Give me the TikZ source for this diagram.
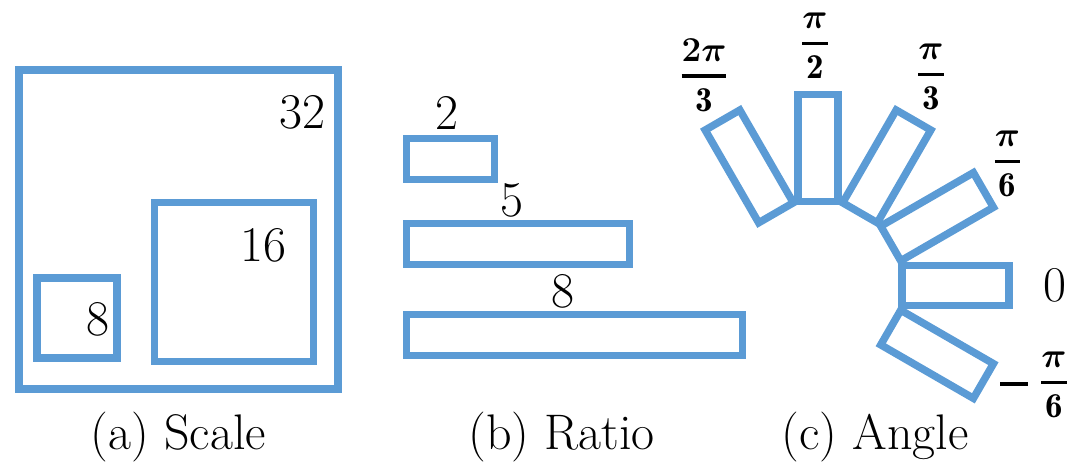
\RequirePackage{fix-cm}
\documentclass[tikz,border=0pt]{standalone}
\usepackage{amsmath}
\usepackage{fontspec}
\usepackage{tikz}
\usetikzlibrary{positioning}
\definecolor{boxblue}{RGB}{91,155,213}
\tikzset{
  box/.style={draw=boxblue, line width=7.5pt, inner sep=0pt, outer sep=0pt},
  num/.style={font=\fontsize{50}{60}\selectfont, inner sep=0pt, anchor=base},
  angnum/.style={font=\fontsize{35}{40}\selectfont, inner sep=0pt},
}
\newcommand{\angfrac}[2]{$\genfrac{}{}{3.5pt}{0}{\boldsymbol{#1}}{\mathbf{#2}}$}

\begin{document}
\begin{tikzpicture}[x=1pt, y=1pt]
        \useasboundingbox (0,0) rectangle (1080,471);
        % (a) scale
        \node[box, minimum size=319pt] (big) at (178.5,241.5) {};
        \node[box, minimum size=159pt] (mid) at (234,189) {};
        \node[box, minimum size=80pt] (small) at (77,153) {};
        \node[num] (n32) at (302.5,342) {32};
        \node[num] (n16) at (263.5,209) {16};
        \node[num] (n8) at (97.5,135) {8};
        % (b) ratio
        \node[box, minimum width=88pt, minimum height=41pt] (rtwo) at (450.5,312) {};
        \node[box, minimum width=223pt, minimum height=41pt] (rfive) at (518,227) {};
        \node[box, minimum width=336pt, minimum height=41pt] (reight) at (574.5,136) {};
        \node[num] (ntwo) at (446.5,341) {2};
        \node[num] (nfive) at (512,254) {5};
        \node[num] (neight) at (563,163) {8};
        % (c) angle
        \coordinate (hub) at (818,185.5);
        \foreach \a in {-30,0,30,60,90,120}
            \node[box, minimum width=107pt, minimum height=40pt, rotate=\a] (rot\a) at ([shift={(\a:137.5pt)}]hub) {};
        \node[num] (nzero) at (1055,169) {0};
        \node[angnum] (minus) at (1014,87) {\rule{28pt}{4.5pt}};
        \node[angnum] (fsixm) at (1054,86) {\angfrac{\pi}{6}};
        \node[angnum] (fsix) at (1007.5,307) {\angfrac{\pi}{6}};
        \node[angnum] (fthree) at (931,394) {\angfrac{\pi}{3}};
        \node[angnum] (ftwo) at (815,425) {\angfrac{\pi}{2}};
        \node[angnum] (ftwothree) at (704,396) {\angfrac{2\pi}{3}};
        % captions
        \node[num] (capa) at (178.5,21) {(a) Scale};
        \node[num] (capb) at (561.5,21) {(b) Ratio};
        \node[num] (capc) at (875,21) {(c) Angle};
    \end{tikzpicture}
\end{document}
